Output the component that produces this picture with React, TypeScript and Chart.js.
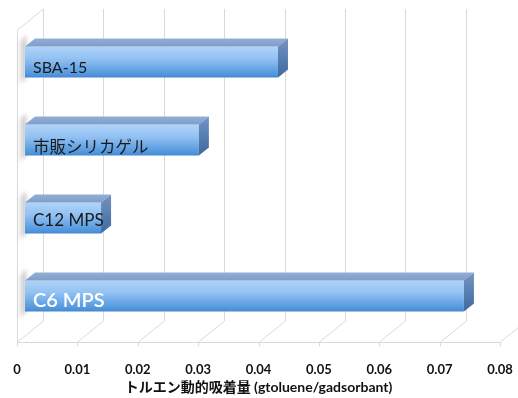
import React, { useEffect, useRef } from 'react';
import { Chart, registerables } from 'chart.js';

Chart.register(...registerables);

// Adsorbents (top to bottom) and their dynamic toluene uptake
const categories = ['SBA-15', '市販シリカゲル', 'C12 MPS', 'C6 MPS'];
const uptake = [0.0419, 0.0288, 0.0126, 0.0727];
const labelSizes = [16, 16.5, 17, 20];
const labelColors = ['#1a1a1a', '#1a1a1a', '#1a1a1a', '#ffffff'];
const xMin = 0;
const xMax = 0.08;
const xStep = 0.01;
const axisTitle = 'トルエン動的吸着量 (gtoluene/gadsorbant)';

const FONT = "Lato, 'Noto Sans CJK JP', sans-serif";

// pseudo-3D geometry
const WALL = { x: 26, y: -21 };   // depth of the floor / back wall
const SHIFT = { x: 8, y: -7 };    // bar row position inside the depth
const BAR = { x: 10, y: -8 };     // depth of each bar

const threeD = {
  id: 'threeD',
  beforeDatasetsDraw(chart: any) {
    const { ctx, chartArea: a, scales } = chart;
    const xs = scales.x;
    ctx.save();
    ctx.strokeStyle = '#d9d9d9';
    ctx.lineWidth = 1;
    // back wall grid + floor lines
    for (let v = xMin; v <= xMax + 1e-9; v += xStep) {
      const px = Math.round(xs.getPixelForValue(v)) + 0.5;
      ctx.beginPath();
      ctx.moveTo(px + WALL.x, a.top + WALL.y);
      ctx.lineTo(px + WALL.x, a.bottom + WALL.y);
      ctx.lineTo(px, a.bottom);
      ctx.lineTo(px, a.bottom + 4);
      ctx.stroke();
    }
    // front floor edge
    ctx.beginPath();
    ctx.moveTo(a.left + 0.5, a.bottom + 0.5);
    ctx.lineTo(a.right + 0.5, a.bottom + 0.5);
    ctx.stroke();
    // left wall outline
    ctx.beginPath();
    ctx.moveTo(a.left + 0.5, a.bottom);
    ctx.lineTo(a.left + 0.5, a.top);
    ctx.lineTo(a.left + 0.5 + WALL.x, a.top + WALL.y);
    ctx.stroke();

    const meta = chart.getDatasetMeta(0);
    meta.data.forEach((bar: any) => {
      const x0 = bar.base + SHIFT.x;
      const yt = bar.y - bar.height / 2 + SHIFT.y;
      const yb = bar.y + bar.height / 2 + SHIFT.y;
      // soft shadow of the bar end on the left wall
      ctx.save();
      ctx.filter = 'blur(2px)';
      const g = ctx.createLinearGradient(x0 - 7, 0, x0 + 1, 0);
      g.addColorStop(0, 'rgba(90,90,90,0)');
      g.addColorStop(1, 'rgba(90,90,90,0.45)');
      ctx.fillStyle = g;
      ctx.beginPath();
      ctx.moveTo(x0 - 6, yt - 4);
      ctx.lineTo(x0 + 1, yt - 11);
      ctx.lineTo(x0 + 1, yb);
      ctx.lineTo(x0 - 6, yb + 8);
      ctx.closePath();
      ctx.fill();
      ctx.restore();
      // front-face shading follows the bar's own extent
      const top = bar.y - bar.height / 2;
      const bot = bar.y + bar.height / 2;
      const fg = ctx.createLinearGradient(0, top, 0, bot);
      fg.addColorStop(0, '#b0d4f9');
      fg.addColorStop(0.4, '#92c1f2');
      fg.addColorStop(0.9, '#5096dd');
      fg.addColorStop(1, '#4586d0');
      bar.options.backgroundColor = fg;
    });
    ctx.restore();

    // bars sit slightly behind the front plane
    ctx.save();
    ctx.translate(SHIFT.x, SHIFT.y);
  },
  afterDatasetsDraw(chart: any) {
    const { ctx } = chart;
    ctx.restore();
    const meta = chart.getDatasetMeta(0);
    ctx.save();
    ctx.translate(SHIFT.x, SHIFT.y);
    meta.data.forEach((bar: any, i: number) => {
      const x0 = bar.base;
      const x1 = bar.x;
      const yt = bar.y - bar.height / 2;
      const yb = bar.y + bar.height / 2;
      // top face
      const gt = ctx.createLinearGradient(0, yt + BAR.y, 0, yt);
      gt.addColorStop(0, '#93afd6');
      gt.addColorStop(1, '#7f9dc9');
      ctx.fillStyle = gt;
      ctx.beginPath();
      ctx.moveTo(x0, yt);
      ctx.lineTo(x1, yt);
      ctx.lineTo(x1 + BAR.x, yt + BAR.y);
      ctx.lineTo(x0 + BAR.x, yt + BAR.y);
      ctx.closePath();
      ctx.fill();
      // right face
      const gr = ctx.createLinearGradient(0, yt + BAR.y, 0, yb);
      gr.addColorStop(0, '#7494c2');
      gr.addColorStop(1, '#3d68a0');
      ctx.fillStyle = gr;
      ctx.beginPath();
      ctx.moveTo(x1, yt);
      ctx.lineTo(x1 + BAR.x, yt + BAR.y);
      ctx.lineTo(x1 + BAR.x, yb + BAR.y);
      ctx.lineTo(x1, yb);
      ctx.closePath();
      ctx.fill();
      // category label inside the bar
      const size = labelSizes[i];
      ctx.font = `${i === 3 ? '600 ' : ''}${size}px ${FONT}`;
      ctx.fillStyle = labelColors[i];
      ctx.textAlign = 'left';
      ctx.textBaseline = 'alphabetic';
      ctx.fillText(categories[i], x0 + 8, yb - (i === 2 ? 8 : i === 1 ? 3 : 5));
    });
    ctx.restore();
  },
};

export default function App() {
  const ref = useRef<HTMLCanvasElement>(null);

  useEffect(() => {
    document.body.style.margin = '0';
    const canvas = ref.current;
    if (!canvas) return;
    const chart = new Chart(canvas, {
      type: 'bar',
      data: {
        labels: categories,
        datasets: [
          {
            data: uptake,
            barPercentage: 0.4,
            categoryPercentage: 1,
            borderWidth: 0,
            backgroundColor: () => '#7fb2ec',
          },
        ],
      },
      options: {
        indexAxis: 'y',
        animation: false,
        responsive: false,
        devicePixelRatio: 1,
        layout: { padding: { left: 17, right: 18, top: 30, bottom: 0 } },
        plugins: {
          legend: { display: false },
          tooltip: { enabled: false },
        },
        scales: {
          y: { display: false },
          x: {
            min: xMin,
            max: xMax,
            border: { display: false },
            grid: { display: false, drawTicks: false },
            afterFit: (s: any) => {
              s.height = 56;
              s.paddingLeft = 0;
              s.paddingRight = 0;
            },
            ticks: {
              stepSize: xStep,
              padding: 20,
              color: '#111111',
              font: { family: FONT, size: 13, weight: 'bold' },
              callback: (v: any) => (Number(v) === 0 ? '0' : Number(v).toFixed(2)),
            },
            title: {
              display: true,
              text: axisTitle,
              color: '#111111',
              font: { family: FONT, size: 14, weight: 'bold' },
              padding: { top: 0, bottom: 2 },
            },
          },
        },
      },
      plugins: [threeD],
    } as any);
    return () => chart.destroy();
  }, []);

  return (
    <div style={{ width: 518, height: 398 }}>
      <canvas ref={ref} width={518} height={398} />
    </div>
  );
}
